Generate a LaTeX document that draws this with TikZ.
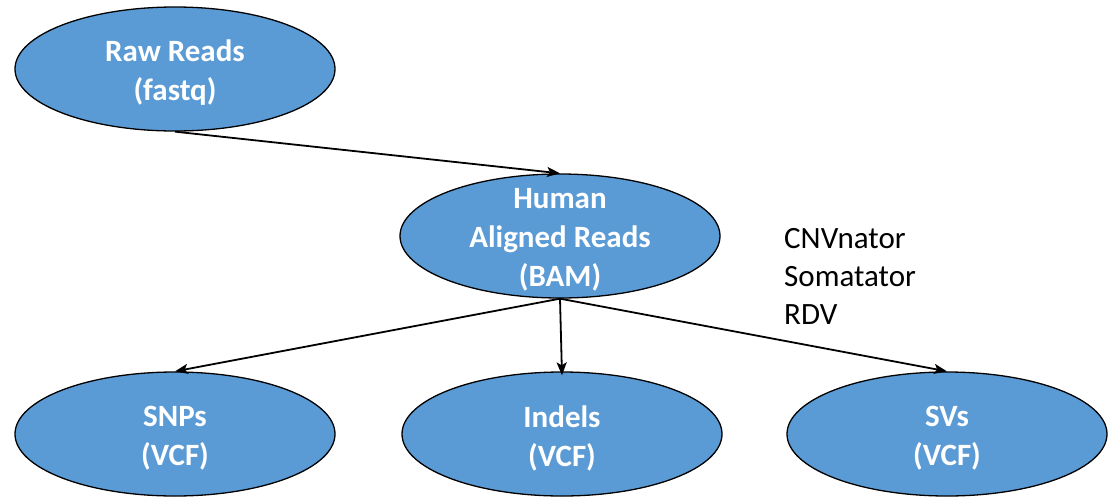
\documentclass[tikz,border=0pt]{standalone}
\usepackage{fontspec}
\setmainfont{Carlito}
\usetikzlibrary{shapes.geometric,arrows.meta}
\definecolor{nodeblue}{HTML}{5B9BD5}
\tikzset{
  blob/.style={ellipse, draw=black, line width=1.3pt, fill=nodeblue,
    minimum width=320pt, minimum height=124pt, inner sep=0pt},
  blobtext/.style={align=center, text=white, inner sep=0pt, yshift=-4pt,
    font=\fontsize{31}{39}\selectfont\bfseries},
  conn/.style={line width=1.8pt, -{Stealth[length=13pt,width=10pt,inset=3pt]}},
  tool/.style={align=left, anchor=north west, inner sep=0pt,
    font=\fontsize{31}{38}\selectfont}
}
\begin{document}
\begin{tikzpicture}[x=1pt,y=-1pt]
\useasboundingbox (0,0) rectangle (1109,496);
\node[blob, label={[blobtext]center:Raw Reads\\(fastq)}] (raw) at (175,69) {};
\node[blob, label={[blobtext]center:Human\\Aligned Reads\\(BAM)}] (bam) at (560,236) {};
\node[blob, label={[blobtext]center:SNPs\\(VCF)}] (snp) at (175,434) {};
\node[blob, label={[blobtext]center:Indels\\(VCF)}] (ind) at (562,434) {};
\node[blob, label={[blobtext]center:SVs\\(VCF)}] (sv) at (947,434) {};
\node[tool] (tools) at (784,228) {CNVnator\\Somatator\\RDV};
\draw[conn] (raw.south) -- (bam.north);
\draw[conn] (bam.south) -- (snp.north);
\draw[conn] (bam.south) -- ([yshift=-4pt]ind.north);
\draw[conn] (bam.south) -- (sv.north);
\end{tikzpicture}
\end{document}
